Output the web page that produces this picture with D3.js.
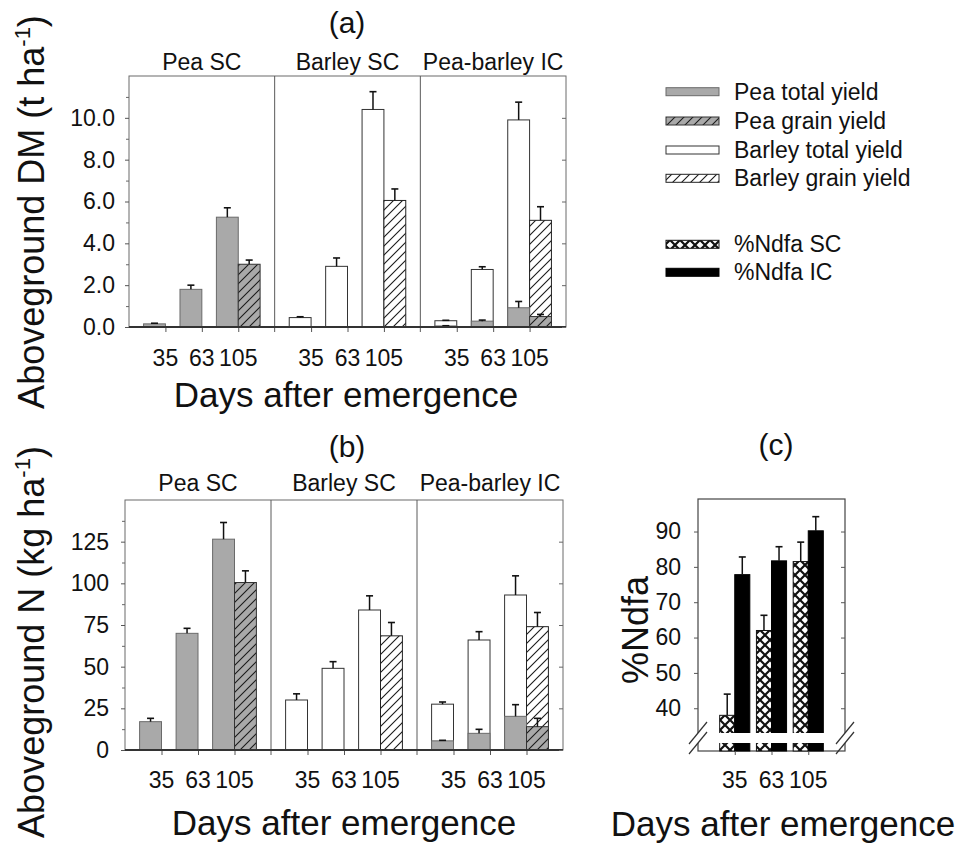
<!DOCTYPE html>
<html><head><meta charset="utf-8">
<script src="https://cdn.jsdelivr.net/npm/d3@7"></script>
<style>html,body{margin:0;padding:0;background:#fff}svg{display:block}</style>
</head><body>
<script>
// ---------------- data ----------------
const days = ["35", "63", "105"];
const systems = ["Pea SC", "Barley SC", "Pea-barley IC"];
const dmTicks = [0, 2, 4, 6, 8, 10];
const nTicks = [0, 25, 50, 75, 100, 125];
const ndfaTicks = [40, 50, 60, 70, 80, 90];
const legendLabels = ["Pea total yield", "Pea grain yield", "Barley total yield", "Barley grain yield", "%Ndfa SC", "%Ndfa IC"];

// (a) aboveground DM, t/ha
const dmPeaTotalSC = [0.15, 1.8, 5.25];
const dmPeaTotalSCErr = [0.03, 0.2, 0.45];
const dmPeaGrainSC = [null, null, 3.0];
const dmPeaGrainSCErr = [null, null, 0.2];
const dmBarleyTotalSC = [0.45, 2.9, 10.4];
const dmBarleyTotalSCErr = [0.04, 0.4, 0.85];
const dmBarleyGrainSC = [null, null, 6.05];
const dmBarleyGrainSCErr = [null, null, 0.55];
const dmBarleyTotalIC = [0.3, 2.75, 9.9];
const dmBarleyTotalICErr = [0.02, 0.13, 0.85];
const dmBarleyGrainIC = [null, null, 5.1];
const dmBarleyGrainICErr = [null, null, 0.65];
const dmPeaTotalIC = [0.05, 0.28, 0.92];
const dmPeaTotalICErr = [0.01, 0.05, 0.3];
const dmPeaGrainIC = [null, null, 0.5];
const dmPeaGrainICErr = [null, null, 0.1];

// (b) aboveground N, kg/ha
const nPeaTotalSC = [17, 70, 126.5];
const nPeaTotalSCErr = [2, 3, 10];
const nPeaGrainSC = [null, null, 100.5];
const nPeaGrainSCErr = [null, null, 7];
const nBarleyTotalSC = [30, 49, 84];
const nBarleyTotalSCErr = [3.7, 4, 8.5];
const nBarleyGrainSC = [null, null, 68.5];
const nBarleyGrainSCErr = [null, null, 8];
const nBarleyTotalIC = [27.5, 66, 93];
const nBarleyTotalICErr = [1.3, 5, 11.5];
const nBarleyGrainIC = [null, null, 74];
const nBarleyGrainICErr = [null, null, 8.5];
const nPeaTotalIC = [5.5, 10, 20.2];
const nPeaTotalICErr = [0.3, 2.4, 7];
const nPeaGrainIC = [null, null, 14];
const nPeaGrainICErr = [null, null, 5];

// (c) %Ndfa
const ndfaSC = [38, 62, 81.5];
const ndfaSCErr = [6, 4.3, 5.5];
const ndfaIC = [77.8, 81.7, 90.2];
const ndfaICErr = [5, 4, 4];

// ---------------- styles ----------------
const FONT = "'Liberation Sans', Arial, Helvetica, sans-serif";
const STYLE = {
  peaTotal: {fill: "#a9a9a9", stroke: "#6a6a6a"},
  peaGrain: {fill: "url(#hatchG)", stroke: "#333"},
  barleyTotal: {fill: "#fff", stroke: "#333"},
  barleyGrain: {fill: "url(#hatchW)", stroke: "#222"},
  ndfaSC: {fill: "url(#cross)", stroke: "#111"},
  ndfaIC: {fill: "#000", stroke: "#000"}
};
const legendStyles = ["peaTotal", "peaGrain", "barleyTotal", "barleyGrain", "ndfaSC", "ndfaIC"];

const svg = d3.select("body").append("svg")
  .attr("width", 965).attr("height", 846)
  .attr("font-family", FONT);
svg.append("rect").attr("width", 965).attr("height", 846).attr("fill", "#fff");

const defs = svg.append("defs");
function hatch(id, bg) {
  const p = defs.append("pattern").attr("id", id).attr("patternUnits", "userSpaceOnUse")
    .attr("width", 9).attr("height", 9);
  p.append("rect").attr("width", 9).attr("height", 9).attr("fill", bg);
  p.append("path").attr("d", "M-1,1 L1,-1 M0,9 L9,0 M8,10 L10,8")
    .attr("stroke", "#1a1a1a").attr("stroke-width", 1.1);
}
hatch("hatchW", "#fff");
hatch("hatchG", "#a9a9a9");
{
  const p = defs.append("pattern").attr("id", "cross").attr("patternUnits", "userSpaceOnUse")
    .attr("width", 10).attr("height", 10);
  p.append("rect").attr("width", 10).attr("height", 10).attr("fill", "#fff");
  p.append("path").attr("d", "M0,0 L10,10 M10,0 L0,10").attr("stroke", "#111").attr("stroke-width", 2.2);
}

function errBars(g, data, cx, y) {
  g.selectAll(null).data(data).join("line")
    .attr("x1", cx).attr("x2", cx)
    .attr("y1", d => y(d.v)).attr("y2", d => y(d.v + d.e))
    .attr("stroke", "#111").attr("stroke-width", 1.5);
  g.selectAll(null).data(data).join("line")
    .attr("x1", d => cx(d) - 3.5).attr("x2", d => cx(d) + 3.5)
    .attr("y1", d => y(d.v + d.e)).attr("y2", d => y(d.v + d.e))
    .attr("stroke", "#111").attr("stroke-width", 1.6);
}

function drawBarPanel(o) {
  const g = svg.append("g");
  const y = d3.scaleLinear().domain(o.yDomain).range([o.bottom, o.top]);
  const w = (o.right - o.left) / o.groups.length;
  g.append("rect").attr("x", o.left).attr("y", o.top)
    .attr("width", o.right - o.left).attr("height", o.bottom - o.top)
    .attr("fill", "none").attr("stroke", "#6b6b6b").attr("stroke-width", 1);
  o.groups.forEach((grp, i) => {
    const x = d3.scaleLinear().domain([0, 4]).range([o.left + i * w, o.left + (i + 1) * w]);
    const bw = (x(1) - x(0)) * 0.6;
    grp.series.forEach(s => {
      const data = s.vals.map((v, j) => ({v, e: s.errs[j], t: j + 1})).filter(d => d.v != null);
      const bx = d => s.slot === 0 ? x(d.t) - bw : x(d.t);
      g.selectAll(null).data(data).join("rect")
        .attr("x", bx).attr("y", d => y(d.v)).attr("width", bw)
        .attr("height", d => y(0) - y(d.v))
        .attr("fill", STYLE[s.style].fill).attr("stroke", STYLE[s.style].stroke).attr("stroke-width", 1);
      errBars(g, data, d => bx(d) + bw / 2, y);
    });
    const ax = g.append("g").attr("transform", `translate(0,${o.bottom})`)
      .call(d3.axisBottom(x).tickValues([1, 2, 3]).tickFormat("").tickSizeInner(5).tickSizeOuter(0));
    ax.select(".domain").remove();
    ax.selectAll("line").attr("stroke", "#555");
    g.selectAll(null).data([1, 2, 3]).join("text")
      .attr("x", d => x(d)).attr("y", o.tickLabelY).attr("text-anchor", "middle")
      .attr("font-size", 23).attr("fill", "#111").text(d => days[d - 1]);
    if (i > 0) {
      g.append("line").attr("x1", x(0)).attr("x2", x(0)).attr("y1", o.top).attr("y2", o.bottom + 5)
        .attr("stroke", "#5a5a5a").attr("stroke-width", 1);
    }
    g.append("text").attr("x", (x(0) + x(4)) / 2).attr("y", o.subLabelY)
      .attr("text-anchor", "middle").attr("font-size", 23).attr("fill", "#111").text(grp.name);
  });
  // x axis line
  g.append("line").attr("x1", o.left).attr("x2", o.right).attr("y1", y(0)).attr("y2", y(0))
    .attr("stroke", "#333").attr("stroke-width", 2);
  // y axis
  const ya = g.append("g").attr("transform", `translate(${o.left},0)`)
    .call(d3.axisLeft(y).tickValues(o.yTicks).tickFormat(o.yFmt).tickSize(4).tickPadding(o.yPad));
  ya.select(".domain").remove();
  ya.selectAll("line").attr("stroke", "#555");
  ya.selectAll("text").attr("font-size", 23).attr("font-family", FONT).attr("fill", "#111");
  const ym = g.append("g").attr("transform", `translate(${o.left},0)`)
    .call(d3.axisLeft(y).tickValues(o.yMinor).tickFormat("").tickSize(3));
  ym.select(".domain").remove();
  ym.selectAll("line").attr("stroke", "#666");
  const yr = g.append("g").attr("transform", `translate(${o.right},0)`)
    .call(d3.axisRight(y).tickValues(o.yTicks).tickFormat("").tickSize(-4));
  yr.select(".domain").remove();
  yr.selectAll("line").attr("stroke", "#666");
  return g;
}

// ---------------- panel (a) ----------------
drawBarPanel({
  left: 129, right: 566, top: 76, bottom: 327, yDomain: [0, 12],
  yTicks: dmTicks, yMinor: d3.range(1, 12, 2), yFmt: d3.format(".1f"), yPad: 10,
  tickLabelY: 366, subLabelY: 70,
  groups: [
    {name: systems[0], series: [
      {vals: dmPeaTotalSC, errs: dmPeaTotalSCErr, slot: 0, style: "peaTotal"},
      {vals: dmPeaGrainSC, errs: dmPeaGrainSCErr, slot: 1, style: "peaGrain"}]},
    {name: systems[1], series: [
      {vals: dmBarleyTotalSC, errs: dmBarleyTotalSCErr, slot: 0, style: "barleyTotal"},
      {vals: dmBarleyGrainSC, errs: dmBarleyGrainSCErr, slot: 1, style: "barleyGrain"}]},
    {name: systems[2], series: [
      {vals: dmBarleyTotalIC, errs: dmBarleyTotalICErr, slot: 0, style: "barleyTotal"},
      {vals: dmBarleyGrainIC, errs: dmBarleyGrainICErr, slot: 1, style: "barleyGrain"},
      {vals: dmPeaTotalIC, errs: dmPeaTotalICErr, slot: 0, style: "peaTotal"},
      {vals: dmPeaGrainIC, errs: dmPeaGrainICErr, slot: 1, style: "peaGrain"}]}
  ]
});

// ---------------- panel (b) ----------------
drawBarPanel({
  left: 125, right: 563, top: 500, bottom: 750, yDomain: [0, 150],
  yTicks: nTicks, yMinor: d3.range(12.5, 150, 25), yFmt: d3.format("d"), yPad: 12,
  tickLabelY: 788, subLabelY: 491,
  groups: [
    {name: systems[0], series: [
      {vals: nPeaTotalSC, errs: nPeaTotalSCErr, slot: 0, style: "peaTotal"},
      {vals: nPeaGrainSC, errs: nPeaGrainSCErr, slot: 1, style: "peaGrain"}]},
    {name: systems[1], series: [
      {vals: nBarleyTotalSC, errs: nBarleyTotalSCErr, slot: 0, style: "barleyTotal"},
      {vals: nBarleyGrainSC, errs: nBarleyGrainSCErr, slot: 1, style: "barleyGrain"}]},
    {name: systems[2], series: [
      {vals: nBarleyTotalIC, errs: nBarleyTotalICErr, slot: 0, style: "barleyTotal"},
      {vals: nBarleyGrainIC, errs: nBarleyGrainICErr, slot: 1, style: "barleyGrain"},
      {vals: nPeaTotalIC, errs: nPeaTotalICErr, slot: 0, style: "peaTotal"},
      {vals: nPeaGrainIC, errs: nPeaGrainICErr, slot: 1, style: "peaGrain"}]}
  ]
});

// ---------------- panel (c) ----------------
{
  const cL = 698, cR = 845, cT = 499, cB = 751, brTop = 733, brBot = 743;
  const g = svg.append("g");
  const y = d3.scaleLinear().domain([33, 99.2]).range([brTop, cT]);
  const x = d3.scaleLinear().domain([0, 4]).range([cL, cR]);
  const bw = (x(1) - x(0)) * 0.41;
  g.append("rect").attr("x", cL).attr("y", cT).attr("width", cR - cL).attr("height", cB - cT)
    .attr("fill", "none").attr("stroke", "#444").attr("stroke-width", 1.2);
  [{vals: ndfaSC, errs: ndfaSCErr, slot: 0, style: "ndfaSC"},
   {vals: ndfaIC, errs: ndfaICErr, slot: 1, style: "ndfaIC"}].forEach(s => {
    const data = s.vals.map((v, j) => ({v, e: s.errs[j], t: j + 1}));
    const bx = d => s.slot === 0 ? x(d.t) - bw : x(d.t);
    g.selectAll(null).data(data).join("rect")
      .attr("x", bx).attr("y", d => y(d.v)).attr("width", bw).attr("height", d => cB - y(d.v))
      .attr("fill", STYLE[s.style].fill).attr("stroke", STYLE[s.style].stroke).attr("stroke-width", 1);
    errBars(g, data, d => bx(d) + bw / 2, y);
  });
  // axis break gap
  g.append("rect").attr("x", cL - 6).attr("y", brTop).attr("width", cR - cL + 12).attr("height", brBot - brTop)
    .attr("fill", "#fff");
  [cL, cR].forEach(bxp => {
    [brTop, brBot].forEach(by => {
      g.append("line").attr("x1", bxp - 9).attr("y1", by + 11).attr("x2", bxp + 9).attr("y2", by - 11)
        .attr("stroke", "#333").attr("stroke-width", 1.2);
    });
  });
  const ya = g.append("g").attr("transform", `translate(${cL},0)`)
    .call(d3.axisLeft(y).tickValues(ndfaTicks).tickSize(4).tickPadding(13));
  ya.select(".domain").remove();
  ya.selectAll("line").attr("stroke", "#555");
  ya.selectAll("text").attr("font-size", 23).attr("font-family", FONT).attr("fill", "#111");
  const yr = g.append("g").attr("transform", `translate(${cR},0)`)
    .call(d3.axisRight(y).tickValues(ndfaTicks).tickFormat("").tickSize(-4));
  yr.select(".domain").remove();
  yr.selectAll("line").attr("stroke", "#555");
  const ax = g.append("g").attr("transform", `translate(0,${cB})`)
    .call(d3.axisBottom(x).tickValues([1, 2, 3]).tickFormat("").tickSizeInner(4).tickSizeOuter(0));
  ax.select(".domain").remove();
  ax.selectAll("line").attr("stroke", "#555");
  g.selectAll(null).data([1, 2, 3]).join("text")
    .attr("x", d => x(d)).attr("y", 788).attr("text-anchor", "middle")
    .attr("font-size", 23).attr("fill", "#111").text(d => days[d - 1]);
}

// ---------------- legend ----------------
{
  const rowY = [91.7, 121, 150, 178.3, 244.3, 272.3];
  const g = svg.append("g");
  legendLabels.forEach((lab, i) => {
    const st = STYLE[legendStyles[i]];
    g.append("rect").attr("x", 666).attr("y", rowY[i] - 4).attr("width", 53).attr("height", 8)
      .attr("fill", st.fill).attr("stroke", st.stroke).attr("stroke-width", 1);
    g.append("text").attr("x", 734).attr("y", rowY[i]).attr("dy", "0.35em")
      .attr("font-size", 23).attr("fill", "#111").text(lab);
  });
}

// ---------------- titles & axis labels ----------------
function txt(x, yv, s, size, anchor) {
  return svg.append("text").attr("x", x).attr("y", yv).attr("font-size", size)
    .attr("text-anchor", anchor || "middle").attr("fill", "#111").text(s);
}
txt(347, 33, "(a)", 30);
txt(347, 457, "(b)", 30);
txt(776, 455, "(c)", 30);
txt(346, 407, "Days after emergence", 35);
txt(344, 835, "Days after emergence", 35);
txt(783, 836, "Days after emergence", 35);

function yLabel(cx, cy, main, sup, tail) {
  const t = svg.append("text").attr("transform", `translate(${cx},${cy}) rotate(-90)`)
    .attr("text-anchor", "middle").attr("font-size", 36).attr("fill", "#111");
  t.append("tspan").text(main);
  if (sup) {
    t.append("tspan").attr("dy", -14).attr("font-size", 22).text(sup);
    t.append("tspan").attr("dy", 14).text(tail);
  }
  return t;
}
yLabel(44, 212, "Aboveground DM (t ha", "-1", ")");
yLabel(44, 642, "Aboveground N (kg ha", "-1", ")");
yLabel(648, 630, "%Ndfa");
</script>
</body></html>
